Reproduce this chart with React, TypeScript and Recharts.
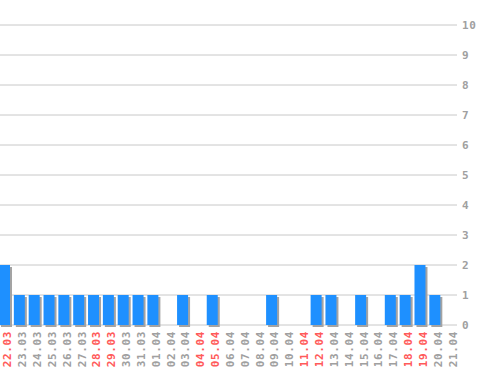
import { BarChart, Bar, XAxis, YAxis, CartesianGrid } from "recharts";

const days = [
  "22.03", "23.03", "24.03", "25.03", "26.03", "27.03", "28.03", "29.03", "30.03", "31.03",
  "01.04", "02.04", "03.04", "04.04", "05.04", "06.04", "07.04", "08.04", "09.04", "10.04",
  "11.04", "12.04", "13.04", "14.04", "15.04", "16.04", "17.04", "18.04", "19.04", "20.04", "21.04",
];
const counts = [2, 1, 1, 1, 1, 1, 1, 1, 1, 1, 1, 0, 1, 0, 1, 0, 0, 0, 1, 0, 0, 1, 1, 0, 1, 0, 1, 1, 2, 1, 0];
const redDays = ["22.03", "28.03", "29.03", "04.04", "05.04", "11.04", "12.04", "18.04", "19.04"];
const yTicks = [0, 1, 2, 3, 4, 5, 6, 7, 8, 9, 10];

const data = days.map((d, i) => ({ day: d, count: counts[i] }));

const FONT = "'DejaVu Sans Mono', monospace";

function ShadowBar(props: any) {
  const { x, y, width, height } = props;
  if (!height || height <= 0) return null;
  return (
    <g>
      <rect x={x + 2} y={y + 2} width={width} height={height} fill="#a3a3a3" />
      <rect x={x} y={y} width={width} height={height} fill="#1e90ff" />
    </g>
  );
}

function DayTick(props: any) {
  const { x, y, payload } = props;
  const red = redDays.includes(payload.value);
  return (
    <g transform={`translate(${x + 3},${y})`}>
      <text
        transform="rotate(-90)"
        x={-6}
        y={0}
        dy="0.36em"
        textAnchor="end"
        fontFamily={FONT}
        fontSize={11}
        fontWeight="bold"
        letterSpacing={0.6}
        fill={red ? "#ff5a5a" : "#a0a0a0"}
      >
        {payload.value}
      </text>
    </g>
  );
}

export default function App() {
  return (
    <div style={{ position: "absolute", left: -3, top: 0, width: 501, height: 370, background: "#fff" }}>
      <BarChart width={501} height={370} data={data} margin={{ top: 25, right: 0, bottom: 0, left: 0 }} barSize={11}>
        <CartesianGrid vertical={false} stroke="#c8c8c8" strokeDasharray="" />
        <XAxis
          dataKey="day"
          interval={0}
          height={45}
          tickLine={false}
          axisLine={false}
          tickSize={0}
          tickMargin={0}
          tick={<DayTick />}
        />
        <YAxis
          orientation="right"
          width={41}
          domain={[0, 10]}
          ticks={yTicks}
          tickLine={false}
          axisLine={false}
          tickSize={3}
          tickMargin={2}
          tick={{ fontFamily: FONT, fontSize: 11, fontWeight: "bold", letterSpacing: 0.6, fill: "#a0a0a0" }}
        />
        <Bar dataKey="count" shape={<ShadowBar />} isAnimationActive={false} />
      </BarChart>
    </div>
  );
}
